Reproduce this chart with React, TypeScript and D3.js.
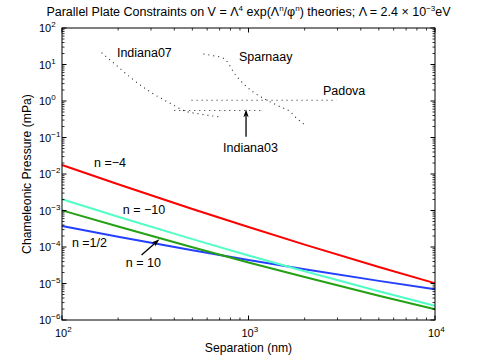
import * as d3 from 'd3';

// model curves, pressure (mPa) against plate separation (nm)
const separation = [100, 200, 500, 1000, 2000, 5000, 10000];
const pressureNm4 = [0.0177, 5.22e-3, 1.1e-3, 3.52e-4, 1.16e-4, 2.84e-5, 1.02e-5];
const pressureNm10 = [2.03e-3, 6.71e-4, 1.64e-4, 5.85e-5, 2.16e-5, 6.11e-6, 2.44e-6];
const pressureN10 = [1.01e-3, 3.63e-4, 9.8e-5, 3.78e-5, 1.5e-5, 4.63e-6, 1.97e-6];
const pressureNHalf = [3.76e-4, 1.91e-4, 8.11e-5, 4.39e-5, 2.44e-5, 1.18e-5, 7.0e-6];

// experimental bounds (dotted)
const indiana07Sep = [163, 192, 236, 296, 380, 457, 550, 703];
const indiana07P = [21, 10.3, 4.19, 1.8, 0.865, 0.53, 0.44, 0.365];
const sparnaaySep = [573, 648, 733, 780, 829, 900, 977, 1083, 1253, 1476, 1670, 1813, 2008];
const sparnaayP = [19.4, 17.4, 14.8, 10.8, 6.36, 3.76, 2.47, 1.63, 1.06, 0.7, 0.51, 0.336, 0.22];
const padovaSep = [495, 2970];
const padovaP = [1.05, 1.05];
const indiana03Sep = [400, 1200];
const indiana03P = [0.55, 0.55];

const xTicks = [2, 3, 4];
const yTicks = [-6, -5, -4, -3, -2, -1, 0, 1, 2];

type Pt = [number, number];
const zip = (xs: number[], ys: number[]): Pt[] => xs.map((v, i) => [v, ys[i]]);

const FONT = 'Liberation Sans, Arial, Helvetica, sans-serif';

export default function App() {
  const width = 480;
  const height = 361;
  const m = { left: 62, right: 435, top: 28, bottom: 320 };

  const x = d3.scaleLog().domain([1e2, 1e4]).range([m.left, m.right]);
  const y = d3.scaleLog().domain([1e-6, 1e2]).range([m.bottom, m.top]);

  const line = d3.line<Pt>()
    .x(d => x(d[0]))
    .y(d => y(d[1]))
    .curve(d3.curveMonotoneX);

  const models = [
    { data: pressureNm4, color: '#ff0000' },
    { data: pressureNHalf, color: '#2440ff' },
    { data: pressureNm10, color: '#52ffc4' },
    { data: pressureN10, color: '#24a014' },
  ];

  const bounds = [
    zip(indiana07Sep, indiana07P),
    zip(sparnaaySep, sparnaayP),
    zip(padovaSep, padovaP),
    zip(indiana03Sep, indiana03P),
  ];

  // minor ticks
  const xMinor: number[] = [];
  for (const d of [1e2, 1e3]) for (let k = 2; k < 10; k++) xMinor.push(d * k);
  const yMinor: number[] = [];
  for (let e = -6; e < 2; e++) for (let k = 2; k < 10; k++) yMinor.push(k * Math.pow(10, e));

  const arrow = (tail: Pt, tip: Pt) => {
    const x0 = x(tail[0]), y0 = y(tail[1]);
    const x1 = x(tip[0]), y1 = y(tip[1]);
    const len = Math.hypot(x1 - x0, y1 - y0);
    const ux = (x1 - x0) / len, uy = (y1 - y0) / len;
    const hl = 8, hw = 2.6;
    const bx = x1 - ux * hl, by = y1 - uy * hl;
    const pts = [
      [x1, y1],
      [bx - uy * hw, by + ux * hw],
      [bx + ux * 2, by + uy * 2],
      [bx + uy * hw, by - ux * hw],
    ];
    return (
      <g>
        <line x1={x0} y1={y0} x2={bx + ux * 2} y2={by + uy * 2} stroke="#000" strokeWidth={1.3} />
        <polygon points={pts.map(p => p.join(',')).join(' ')} fill="#000" />
      </g>
    );
  };

  const sup = (base: string, exp: string | number) => (
    <>
      {base}
      <tspan dy={-5} fontSize={8}>{exp}</tspan>
    </>
  );

  return (
    <svg width={width} height={height} style={{ display: 'block' }} fontFamily={FONT}>
      <style>{'body{margin:0}'}</style>
      <rect width={width} height={height} fill="#fff" />

      {/* title */}
      <text x={(m.left + m.right) / 2} y={16} textAnchor="middle" fontSize={12.5}>
        Parallel Plate Constraints on V = Λ<tspan dy={-5} fontSize={8}>4</tspan>
        <tspan dy={5}>{' exp(Λ'}</tspan><tspan dy={-5} fontSize={8}>n</tspan>
        <tspan dy={5}>/φ</tspan><tspan dy={-5} fontSize={8}>n</tspan>
        <tspan dy={5}>{') theories; Λ = 2.4 × 10'}</tspan><tspan dy={-5} fontSize={8}>−3</tspan>
        <tspan dy={5}>eV</tspan>
      </text>

      {/* dotted bounds */}
      {bounds.map((b, i) => (
        <path key={i} d={line(b) ?? ''} fill="none" stroke="#222" strokeWidth={1.1} strokeDasharray="1 4" />
      ))}

      {/* model curves */}
      {models.map((s, i) => (
        <path key={i} d={line(zip(separation, s.data)) ?? ''} fill="none" stroke={s.color} strokeWidth={2} />
      ))}

      {/* axes box and ticks */}
      <rect x={m.left} y={m.top} width={m.right - m.left} height={m.bottom - m.top} fill="none" stroke="#000" strokeWidth={1} />
      {xMinor.map(v => (
        <g key={'xm' + v} stroke="#000" strokeWidth={0.8}>
          <line x1={x(v)} x2={x(v)} y1={m.bottom} y2={m.bottom - 2.5} />
          <line x1={x(v)} x2={x(v)} y1={m.top} y2={m.top + 2.5} />
        </g>
      ))}
      {xTicks.map(e => (
        <g key={'xM' + e} stroke="#000" strokeWidth={1}>
          <line x1={x(10 ** e)} x2={x(10 ** e)} y1={m.bottom} y2={m.bottom - 4.5} />
          <line x1={x(10 ** e)} x2={x(10 ** e)} y1={m.top} y2={m.top + 4.5} />
        </g>
      ))}
      {yMinor.map(v => (
        <g key={'ym' + v} stroke="#000" strokeWidth={0.8}>
          <line x1={m.left} x2={m.left + 2.5} y1={y(v)} y2={y(v)} />
          <line x1={m.right} x2={m.right - 2.5} y1={y(v)} y2={y(v)} />
        </g>
      ))}
      {yTicks.map(e => (
        <g key={'yM' + e} stroke="#000" strokeWidth={1}>
          <line x1={m.left} x2={m.left + 4.5} y1={y(10 ** e)} y2={y(10 ** e)} />
          <line x1={m.right} x2={m.right - 4.5} y1={y(10 ** e)} y2={y(10 ** e)} />
        </g>
      ))}

      {/* tick labels */}
      {xTicks.map(e => (
        <text key={'xl' + e} x={x(10 ** e) - 7} y={m.bottom + 17} fontSize={11}>
          {sup('10', e)}
        </text>
      ))}
      {yTicks.map(e => (
        <text key={'yl' + e} x={m.left - 23} y={y(10 ** e) + 4} fontSize={11}>
          {sup('10', e < 0 ? '−' + Math.abs(e) : e)}
        </text>
      ))}

      {/* axis titles */}
      <text x={(m.left + m.right) / 2} y={352} textAnchor="middle" fontSize={12.2}>Separation (nm)</text>
      <text transform={`translate(31,${(m.top + m.bottom) / 2}) rotate(-90)`} textAnchor="middle" fontSize={12.2}>
        Chameleonic Pressure (mPa)
      </text>

      {/* annotations */}
      <g fontSize={12.5}>
        <text x={x(197)} y={y(16)}>Indiana07</text>
        <text x={x(889)} y={y(12.5)}>Sparnaay</text>
        <text x={x(2506)} y={y(1.46)}>Padova</text>
        <text x={x(730)} y={y(0.04)}>Indiana03</text>
        <text x={x(148.5)} y={y(0.0151)}>n =−4</text>
        <text x={x(212)} y={y(8.0e-4)}>n = −10</text>
        <text x={x(113)} y={y(1.03e-4)}>n =1/2</text>
        <text x={x(220)} y={y(2.92e-5)}>n = 10</text>
      </g>
      {arrow([970, 0.105], [970, 0.59])}
      {arrow([267, 6.04e-5], [333, 1.63e-4])}
    </svg>
  );
}
